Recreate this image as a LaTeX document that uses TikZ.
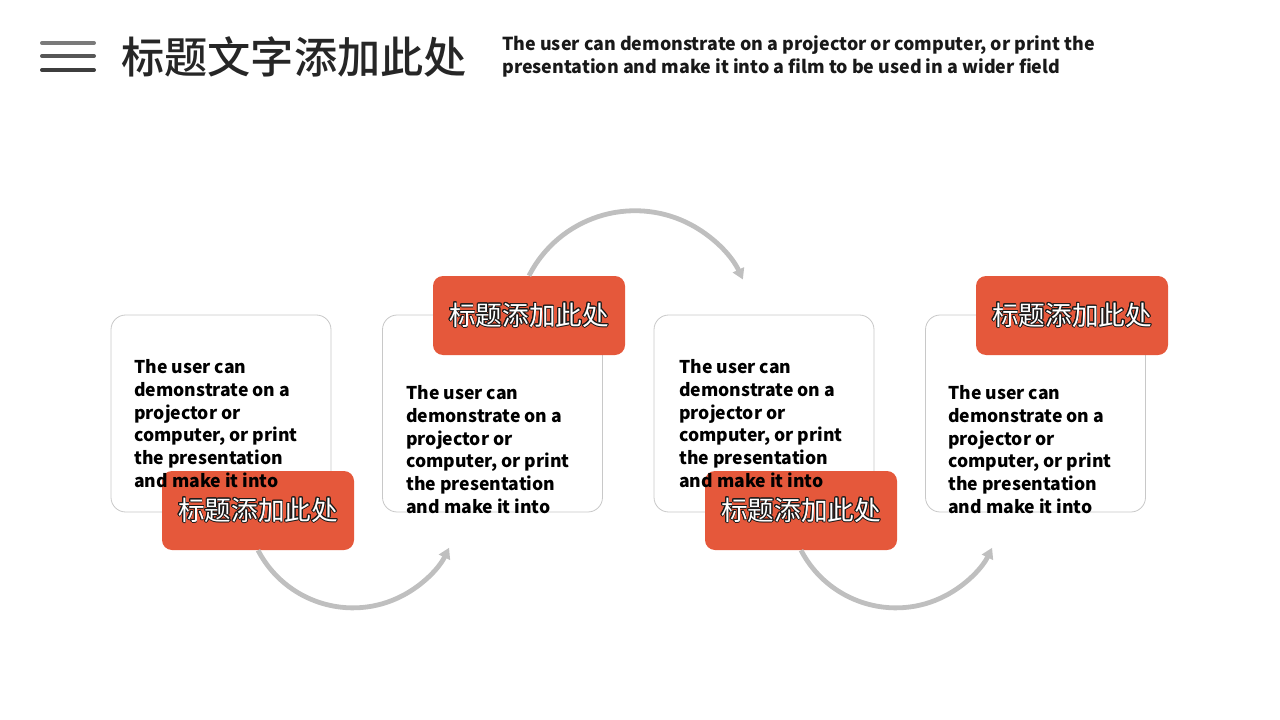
\documentclass[tikz,border=0pt]{standalone}
\usepackage{fontspec}
\setmainfont{Noto Sans CJK SC}
\newfontfamily\cjkmed{Noto Sans CJK SC Medium}
\usepackage[copies]{contour}
\contourlength{0.6pt}
\usetikzlibrary{arrows.meta}
\definecolor{orng}{HTML}{E5583B}
\definecolor{arrowgray}{HTML}{BFBFBF}
\definecolor{boxgray}{HTML}{C8C8C8}
\definecolor{titlegray}{HTML}{262626}
\tikzset{
  whitebox/.style={draw=boxgray, line width=0.6pt, fill=white, rounded corners=11pt,
    minimum width=165pt, minimum height=147.75pt, inner sep=0pt},
  orangebox/.style={fill=orng, rounded corners=7.5pt, minimum width=144pt,
    minimum height=59.25pt, inner sep=0pt},
  labeltext/.style={inner sep=0pt, font=\fontsize{20pt}{24pt}\selectfont},
  bodytext/.style={anchor=base west, inner sep=0pt, align=left, text=black,
    font=\bfseries\fontsize{13.2pt}{17pt}\selectfont},
  flowarc/.style={draw=arrowgray, line width=3.6pt, -{Triangle[length=8pt,width=9pt]}},
  menuline/.style={line width=3pt, line cap=round}
}
\newcommand{\olabel}{\contour{black!90}{\textcolor{white}{标题添加此处}}}
\begin{document}
\begin{tikzpicture}[x=0.75pt,y=-0.75pt]
\path[use as bounding box] (0,0) rectangle (1280,720);
% menu icon
\coordinate (m1a) at (42,43); \coordinate (m1b) at (94,43);
\coordinate (m2a) at (42,56); \coordinate (m2b) at (94,56);
\coordinate (m3a) at (42,70); \coordinate (m3b) at (94,70);
\draw[menuline, draw=black!52] (m1a) -- (m1b);
\draw[menuline, draw=black!66] (m2a) -- (m2b);
\draw[menuline, draw=black!76] (m3a) -- (m3b);
% title
\node[anchor=west, inner sep=0pt, text=titlegray, font=\cjkmed\fontsize{32.4pt}{36pt}\selectfont] (title) at (121,57) {标题文字添加此处};
\node[bodytext, text=black!90, font=\bfseries\fontsize{13.4pt}{17pt}\selectfont] (sub) at (502,73.5) {The user can demonstrate on a projector or computer, or print the\\presentation and make it into a film to be used in a wider field};
% white boxes
\node[whitebox] (b1) at (221,413.5) {};
\node[whitebox] (b2) at (492.5,413.5) {};
\node[whitebox] (b3) at (764,413.5) {};
\node[whitebox] (b4) at (1035.5,413.5) {};
% orange boxes
\node[orangebox] (o1) at (258,510.5) {};
\node[orangebox] (o2) at (529,315.5) {};
\node[orangebox] (o3) at (801,510.5) {};
\node[orangebox] (o4) at (1072,315.5) {};
% arcs
\draw[flowarc] (o2.north) arc[start angle=207, end angle=335, radius=119];
\draw[flowarc] (o1.south) arc[start angle=152.5, end angle=26, radius=107];
\draw[flowarc] (o3.south) arc[start angle=152.5, end angle=26, radius=107];
% body texts (anchor on last line baseline)
\node[bodytext] (t1) at (134,487) {The user can\\demonstrate on a\\projector or\\computer, or print\\the presentation\\and make it into};
\node[bodytext] (t2) at (406,513) {The user can\\demonstrate on a\\projector or\\computer, or print\\the presentation\\and make it into};
\node[bodytext] (t3) at (679,487) {The user can\\demonstrate on a\\projector or\\computer, or print\\the presentation\\and make it into};
\node[bodytext] (t4) at (948,513) {The user can\\demonstrate on a\\projector or\\computer, or print\\the presentation\\and make it into};
% orange labels
\node[labeltext] (l1) at (o1.center) {\olabel};
\node[labeltext] (l2) at (o2.center) {\olabel};
\node[labeltext] (l3) at (o3.center) {\olabel};
\node[labeltext] (l4) at (o4.center) {\olabel};
\end{tikzpicture}
\end{document}
